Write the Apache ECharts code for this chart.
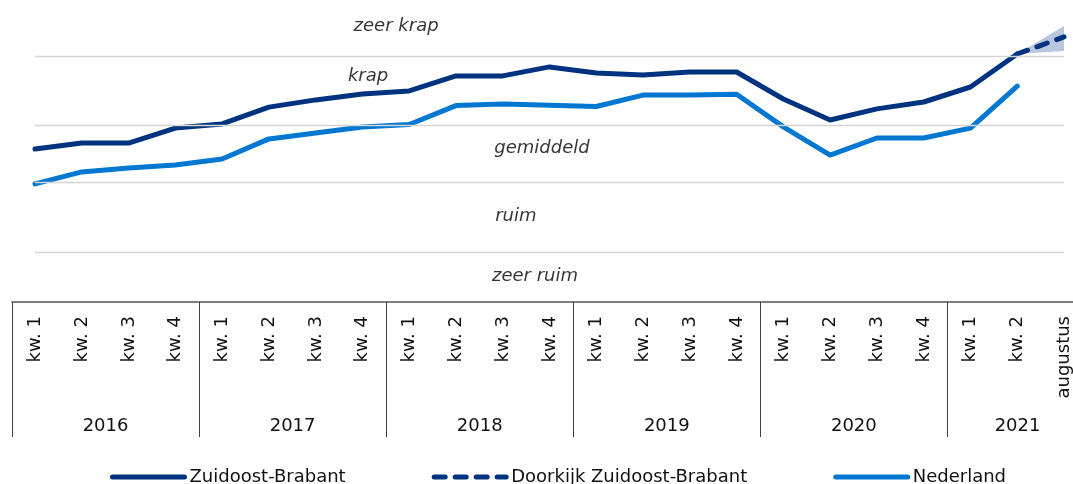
<!DOCTYPE html>
<html>
<head>
<meta charset="utf-8">
<script src="https://cdn.jsdelivr.net/npm/echarts@6/dist/echarts.min.js"></script>
<style>
  html, body { margin: 0; padding: 0; background: #fff; }
  #chart { width: 1073px; height: 484px; }
</style>
</head>
<body>
<div id="chart"></div>
<script>
// ---- data ----
const categories = [
  'kw. 1','kw. 2','kw. 3','kw. 4',
  'kw. 1','kw. 2','kw. 3','kw. 4',
  'kw. 1','kw. 2','kw. 3','kw. 4',
  'kw. 1','kw. 2','kw. 3','kw. 4',
  'kw. 1','kw. 2','kw. 3','kw. 4',
  'kw. 1','kw. 2','augustus'
];
const years = ['2016','2017','2018','2019','2020','2021'];
const yearGroupSizes = [4, 4, 4, 4, 4, 3];

const zuidoostBrabant = [50.3, 52.3, 52.3, 57.3, 58.7, 64.3, 66.7, 68.7, 69.7, 74.7, 74.7, 77.7,
  75.7, 75.0, 76.0, 76.0, 67.0, 60.0, 63.7, 66.0, 71.0, 82.0, null];
const doorkijk = [null, null, null, null, null, null, null, null, null, null, null, null,
  null, null, null, null, null, null, null, null, null, 82.0, 87.7];
const doorkijkLow = [null, null, null, null, null, null, null, null, null, null, null, null,
  null, null, null, null, null, null, null, null, null, 82.0, 83.0];
const doorkijkHigh = [null, null, null, null, null, null, null, null, null, null, null, null,
  null, null, null, null, null, null, null, null, null, 82.0, 91.3];
const nederland = [38.7, 42.7, 44.0, 45.0, 47.0, 53.7, 55.7, 57.7, 58.5, 64.8, 65.3, 64.9,
  64.5, 68.3, 68.3, 68.6, 57.7, 48.3, 54.0, 54.0, 57.3, 71.3, null];

// zone boundaries (arbitrary index scale) and zone labels
const zoneBoundaries = [15.9, 39.1, 58.2, 81.4];
const zoneNames = ['zeer krap', 'krap', 'gemiddeld', 'ruim', 'zeer ruim'];
const zoneLabelX = [7.72, 7.12, 10.84, 10.28, 10.69];
const zoneLabelY = [91.3, 74.7, 50.7, 28.0, 8.0];

// ---- build ----
const FONT = 'DejaVu Sans';
const DARK = '#00337f';
const LIGHT = '#0078d2';
const CONE = '#b9c6de';
const BAND = 46.77;

const coneBand = doorkijkHigh.map((v, i) => (v == null || doorkijkLow[i] == null) ? null : +(v - doorkijkLow[i]).toFixed(2));

const yearCenters = [];
let acc = 0;
yearGroupSizes.forEach(s => { yearCenters.push(acc + s / 2); acc += s; });

const chart = echarts.init(document.getElementById('chart'), null, { renderer: 'canvas' });

const option = {
  animation: false,
  textStyle: { fontFamily: FONT },
  grid: [
    { left: 35, right: 9, top: 0, height: 300, outerBoundsMode: 'none', containLabel: false },
    { left: 12, width: categories.length * BAND, top: 301, height: 1, outerBoundsMode: 'none', containLabel: false }
  ],
  xAxis: [
    { gridIndex: 0, type: 'category', data: categories, boundaryGap: false, show: false },
    {
      gridIndex: 1, type: 'category', data: categories, boundaryGap: true, position: 'bottom',
      axisLine: { show: true, lineStyle: { color: '#555', width: 1.5 } },
      axisTick: {
        show: true, inside: false, length: 135,
        interval: (idx) => idx % 4 === 0,
        lineStyle: { color: '#404040', width: 1 }
      },
      axisLabel: {
        interval: 0, rotate: 90, margin: 14,
        fontFamily: FONT, fontSize: 18, color: '#111'
      },
      splitLine: { show: false }
    },
    {
      gridIndex: 1, type: 'value', min: 0, max: 23, interval: 0.5, position: 'bottom',
      axisLine: { show: false }, axisTick: { show: false }, splitLine: { show: false },
      axisLabel: {
        margin: 115, fontFamily: FONT, fontSize: 18, color: '#111', showMinLabel: true, showMaxLabel: true,
        formatter: (v) => {
          const k = yearCenters.findIndex(c => Math.abs(c - v) < 1e-6);
          return k >= 0 ? years[k] : '';
        }
      }
    },
    { gridIndex: 0, type: 'value', min: 0, max: categories.length - 1, show: false }
  ],
  yAxis: [
    { gridIndex: 0, type: 'value', min: 0, max: 100, show: false, splitLine: { show: false } },
    { gridIndex: 1, type: 'value', show: false, splitLine: { show: false } }
  ],
  legend: {
    left: 105, top: 463,
    itemWidth: 72, itemHeight: 14, itemGap: 86,
    data: ['Zuidoost-Brabant', 'Doorkijk Zuidoost-Brabant', 'Nederland'],
    textStyle: { fontFamily: FONT, fontSize: 18, color: '#111' },
    lineStyle: { width: 5, cap: 'round' },
    itemStyle: { opacity: 0 },
    selectedMode: false
  },
  series: [
    {
      name: 'grid', type: 'line', xAxisIndex: 0, yAxisIndex: 0, data: [], z: 1, silent: true,
      markLine: {
        silent: true, symbol: 'none', label: { show: false },
        lineStyle: { color: '#d4d4d4', width: 1.3, type: 'solid' },
        data: zoneBoundaries.map(v => ({ yAxis: v }))
      }
    },
    {
      name: 'coneLow', type: 'line', xAxisIndex: 0, yAxisIndex: 0, stack: 'cone',
      data: doorkijkLow, symbol: 'none', lineStyle: { width: 0 }, z: 2, silent: true
    },
    {
      name: 'coneBand', type: 'line', xAxisIndex: 0, yAxisIndex: 0, stack: 'cone',
      data: coneBand, symbol: 'none', lineStyle: { width: 0 },
      areaStyle: { color: CONE, opacity: 1 }, z: 2, silent: true
    },
    {
      name: 'Nederland', type: 'line', xAxisIndex: 0, yAxisIndex: 0, data: nederland,
      symbol: 'none', color: LIGHT,
      lineStyle: { color: LIGHT, width: 5, cap: 'round', join: 'round' }, z: 3
    },
    {
      name: 'Zuidoost-Brabant', type: 'line', xAxisIndex: 0, yAxisIndex: 0, data: zuidoostBrabant,
      symbol: 'none', color: DARK,
      lineStyle: { color: DARK, width: 5, cap: 'round', join: 'round' }, z: 4
    },
    {
      name: 'Doorkijk Zuidoost-Brabant', type: 'line', xAxisIndex: 0, yAxisIndex: 0, data: doorkijk,
      symbol: 'none', color: DARK,
      lineStyle: { color: DARK, width: 5, type: [11, 10], cap: 'round', join: 'round' }, z: 4
    },
    {
      name: 'zones', type: 'scatter', xAxisIndex: 3, yAxisIndex: 0, symbolSize: 0, silent: true,
      data: zoneNames.map((n, i) => ({ name: n, value: [zoneLabelX[i], zoneLabelY[i]] })),
      label: {
        show: true, position: 'inside', formatter: '{b}',
        fontFamily: FONT, fontSize: 18, fontStyle: 'italic', color: '#000'
      },
      z: 5
    }
  ]
};
chart.setOption(option);
</script>
</body>
</html>
